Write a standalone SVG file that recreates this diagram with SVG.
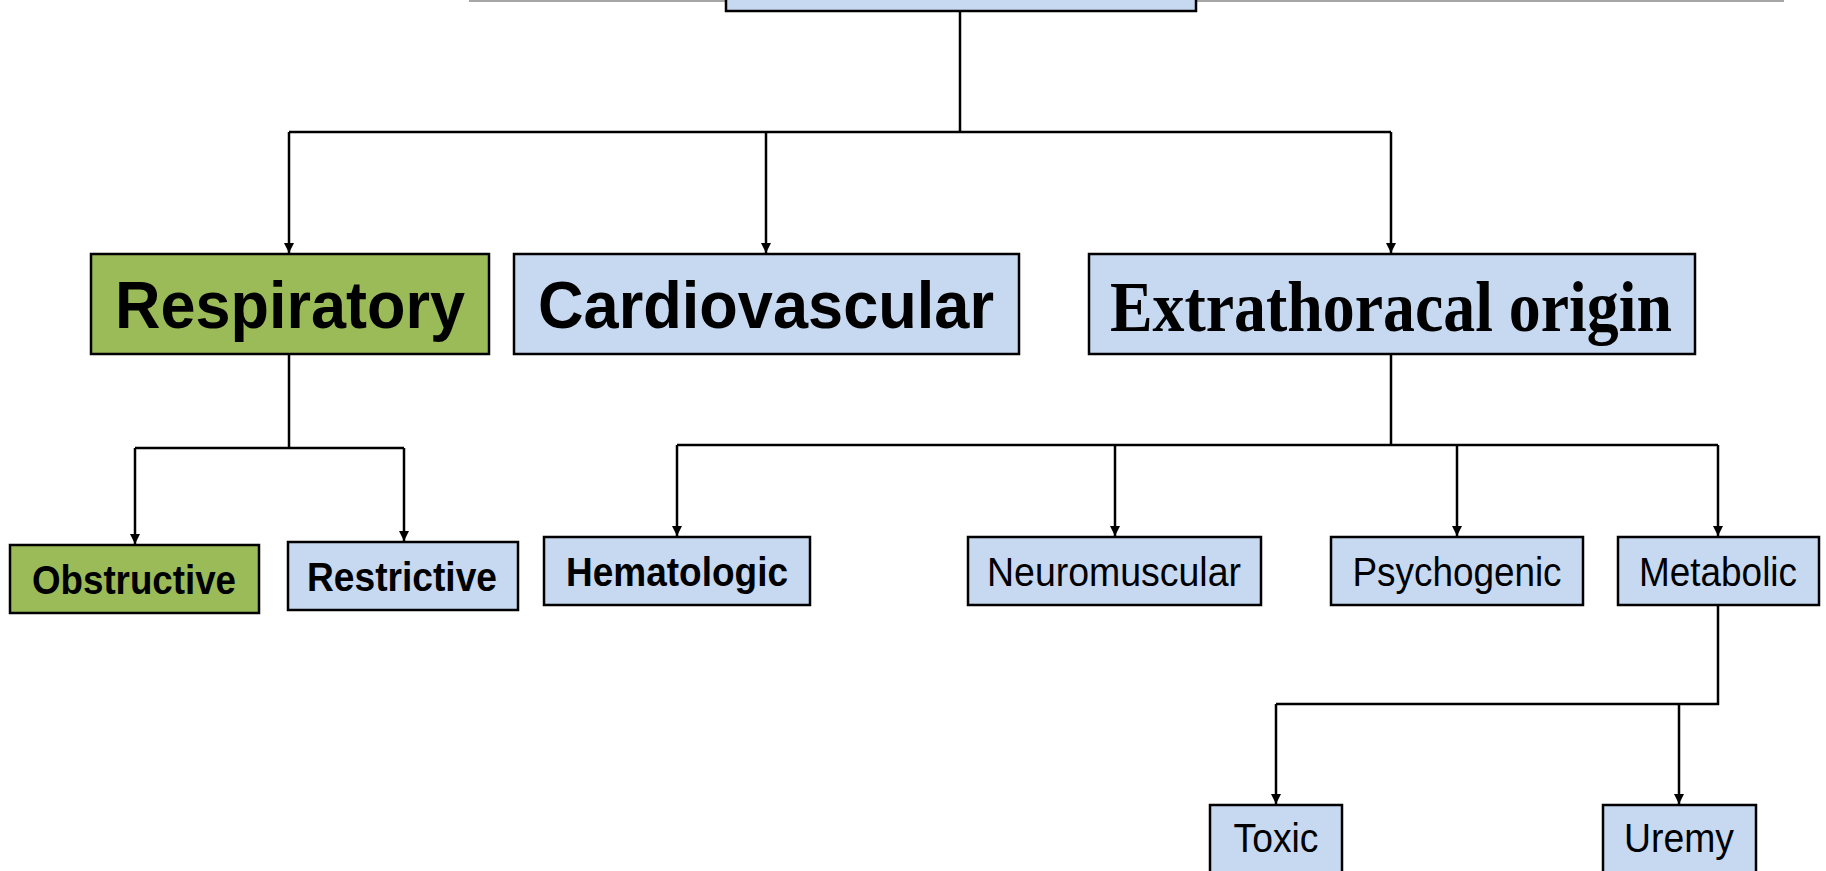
<svg xmlns="http://www.w3.org/2000/svg" width="1826" height="871" viewBox="0 0 1826 871">
<defs>
<style>
.box{stroke:#000;stroke-width:2.5}
.blue{fill:#C6D9F1}
.green{fill:#9BBB59}
.big{font-family:"Liberation Sans",Arial,sans-serif;font-weight:bold;font-size:66px;fill:#000}
.serif{font-family:"Liberation Serif","Times New Roman",serif;font-weight:bold;font-size:72px;fill:#000}
.sb{font-family:"Liberation Sans",Arial,sans-serif;font-weight:bold;font-size:40px;fill:#000}
.sr{font-family:"Liberation Sans",Arial,sans-serif;font-size:40px;fill:#000}
.conn{fill:none;stroke:#000;stroke-width:2.5}
</style>
<marker id="arr" viewBox="0 0 10 10" refX="10" refY="5" markerWidth="10" markerHeight="10" markerUnits="userSpaceOnUse" orient="auto">
<path d="M0,0 L10,5 L0,10 Z" fill="#000"/>
</marker>
</defs>
<rect width="1826" height="871" fill="#fff"/>
<line x1="469" y1="1" x2="1784" y2="1" stroke="#A6A6A6" stroke-width="2"/>

<g id="connectors">
<path class="conn" d="M960,12 V132"/>
<path class="conn" d="M289,132 H1391"/>
<path class="conn" d="M289,132 V253" marker-end="url(#arr)"/>
<path class="conn" d="M766,132 V253" marker-end="url(#arr)"/>
<path class="conn" d="M1391,132 V253" marker-end="url(#arr)"/>
<path class="conn" d="M289,354 V448"/>
<path class="conn" d="M135,448 H404"/>
<path class="conn" d="M135,448 V544" marker-end="url(#arr)"/>
<path class="conn" d="M404,448 V541" marker-end="url(#arr)"/>
<path class="conn" d="M1391,354 V445"/>
<path class="conn" d="M677,445 H1718"/>
<path class="conn" d="M677,445 V536" marker-end="url(#arr)"/>
<path class="conn" d="M1115,445 V536" marker-end="url(#arr)"/>
<path class="conn" d="M1457,445 V536" marker-end="url(#arr)"/>
<path class="conn" d="M1718,445 V536" marker-end="url(#arr)"/>
<path class="conn" d="M1718,605 V704 H1276"/>
<path class="conn" d="M1276,704 V804" marker-end="url(#arr)"/>
<path class="conn" d="M1679,704 V804" marker-end="url(#arr)"/>
</g>

<g id="top">
<rect class="box blue" x="726" y="-10" width="470" height="21"/>
</g>

<g id="respiratory">
<rect class="box green" x="91" y="254" width="398" height="100"/>
<text class="big" x="290" y="328" text-anchor="middle" textLength="350" lengthAdjust="spacingAndGlyphs">Respiratory</text>
</g>
<g id="cardiovascular">
<rect class="box blue" x="514" y="254" width="505" height="100"/>
<text class="big" x="766" y="328" text-anchor="middle" textLength="456" lengthAdjust="spacingAndGlyphs">Cardiovascular</text>
</g>
<g id="extrathoracal">
<rect class="box blue" x="1089" y="254" width="606" height="100"/>
<text class="serif" x="1391" y="331" text-anchor="middle" textLength="562" lengthAdjust="spacingAndGlyphs">Extrathoracal origin</text>
</g>

<g id="obstructive">
<rect class="box green" x="10" y="545" width="249" height="68"/>
<text class="sb" x="134" y="594" text-anchor="middle" textLength="204" lengthAdjust="spacingAndGlyphs">Obstructive</text>
</g>
<g id="restrictive">
<rect class="box blue" x="288" y="542" width="230" height="68"/>
<text class="sb" x="402" y="591" text-anchor="middle" textLength="190" lengthAdjust="spacingAndGlyphs">Restrictive</text>
</g>
<g id="hematologic">
<rect class="box blue" x="544" y="537" width="266" height="68"/>
<text class="sb" x="677" y="586" text-anchor="middle" textLength="222" lengthAdjust="spacingAndGlyphs">Hematologic</text>
</g>
<g id="neuromuscular">
<rect class="box blue" x="968" y="537" width="293" height="68"/>
<text class="sr" x="1114" y="586" text-anchor="middle" textLength="254" lengthAdjust="spacingAndGlyphs">Neuromuscular</text>
</g>
<g id="psychogenic">
<rect class="box blue" x="1331" y="537" width="252" height="68"/>
<text class="sr" x="1457" y="586" text-anchor="middle" textLength="209" lengthAdjust="spacingAndGlyphs">Psychogenic</text>
</g>
<g id="metabolic">
<rect class="box blue" x="1618" y="537" width="201" height="68"/>
<text class="sr" x="1718" y="586" text-anchor="middle" textLength="158" lengthAdjust="spacingAndGlyphs">Metabolic</text>
</g>
<g id="toxic">
<rect class="box blue" x="1210" y="805" width="132" height="75"/>
<text class="sr" x="1276" y="852" text-anchor="middle" textLength="85" lengthAdjust="spacingAndGlyphs">Toxic</text>
</g>
<g id="uremy">
<rect class="box blue" x="1603" y="805" width="153" height="75"/>
<text class="sr" x="1679" y="852" text-anchor="middle" textLength="110" lengthAdjust="spacingAndGlyphs">Uremy</text>
</g>
</svg>
